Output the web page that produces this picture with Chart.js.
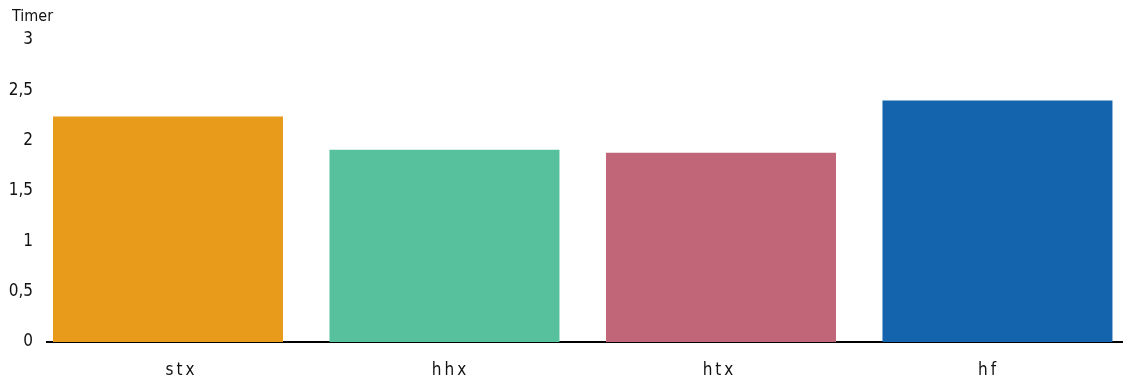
<!DOCTYPE html>
<html>
<head>
<meta charset="utf-8">
<script src="https://cdn.jsdelivr.net/npm/chart.js@4/dist/chart.umd.min.js"></script>
<style>
  html, body { margin: 0; padding: 0; background: #fff; }
  #wrap { width: 1123px; height: 377px; position: relative; }
</style>
</head>
<body>
<div id="wrap"><canvas id="c"></canvas></div>
<script>
// Categories and values (hours)
const categories = ['stx', 'hhx', 'htx', 'hf'];
const hours = [2.24, 1.91, 1.88, 2.40];
const barColors = ['#E89A1A', '#57C19E', '#C06678', '#1464AD'];
const yTicks = [0, 0.5, 1, 1.5, 2, 2.5, 3];
const yTitle = 'Timer';

const FONT = "'Liberation Sans Narrow', 'DejaVu Sans Condensed', 'Roboto', sans-serif";

// Wider letter spacing for the category labels only
const spacedCategoryLabels = {
  id: 'spacedCategoryLabels',
  afterLayout(chart) {
    const sx = chart.scales.x;
    if (sx._spacedWrapped) return;
    const orig = sx.drawLabels.bind(sx);
    sx.drawLabels = function (area) {
      const ctx = this.ctx;
      ctx.save();
      ctx.letterSpacing = '3px';
      orig(area);
      ctx.restore();
    };
    sx._spacedWrapped = true;
  }
};

// Unit label above the value axis
const unitLabel = {
  id: 'unitLabel',
  afterDraw(chart) {
    const ctx = chart.ctx;
    ctx.save();
    ctx.font = '16px ' + FONT;
    ctx.fillStyle = '#111';
    ctx.textAlign = 'left';
    ctx.textBaseline = 'middle';
    ctx.fillText(yTitle, 12, 17);
    ctx.restore();
  }
};

const points = hours.map((v, i) => ({ x: i, y: v }));

new Chart(document.getElementById('c'), {
  type: 'bar',
  data: {
    datasets: [{
      data: points,
      backgroundColor: barColors,
      borderWidth: 0,
      categoryPercentage: 0.855,
      barPercentage: 1
    }]
  },
  options: {
    responsive: true,
    maintainAspectRatio: false,
    animation: false,
    layout: { padding: { top: 40, right: 0, bottom: 0, left: 0 } },
    plugins: {
      legend: { display: false },
      tooltip: { enabled: false },
      title: { display: false }
    },
    scales: {
      x: {
        type: 'linear',
        offset: false,
        min: -0.4376,
        max: 3.454,
        grid: { display: false, drawTicks: false },
        border: { display: true, color: '#000', width: 2 },
        // category labels sit in the middle of equal slots across the axis
        afterBuildTicks(scale) {
          const n = categories.length;
          const span = (scale.max - scale.min) / n;
          scale.ticks = categories.map((_, i) => ({ value: scale.min + (i + 0.5) * span, label: categories[i] }));
        },
        ticks: {
          padding: 18,
          color: '#111',
          font: { family: FONT, size: 17 },
          callback: (v, i) => categories[i]
        },
        afterFit(scale) { scale.height = 35; }
      },
      y: {
        min: 0,
        max: 3,
        grid: { display: false, drawTicks: false },
        border: { display: false },
        afterBuildTicks(scale) {
          scale.ticks = yTicks.map(v => ({ value: v }));
        },
        ticks: {
          padding: 14,
          color: '#111',
          font: { family: FONT, size: 17 },
          callback: (v) => String(v).replace('.', ',')
        },
        afterFit(scale) { scale.width = 47; }
      }
    }
  },
  plugins: [spacedCategoryLabels, unitLabel]
});
</script>
</body>
</html>
